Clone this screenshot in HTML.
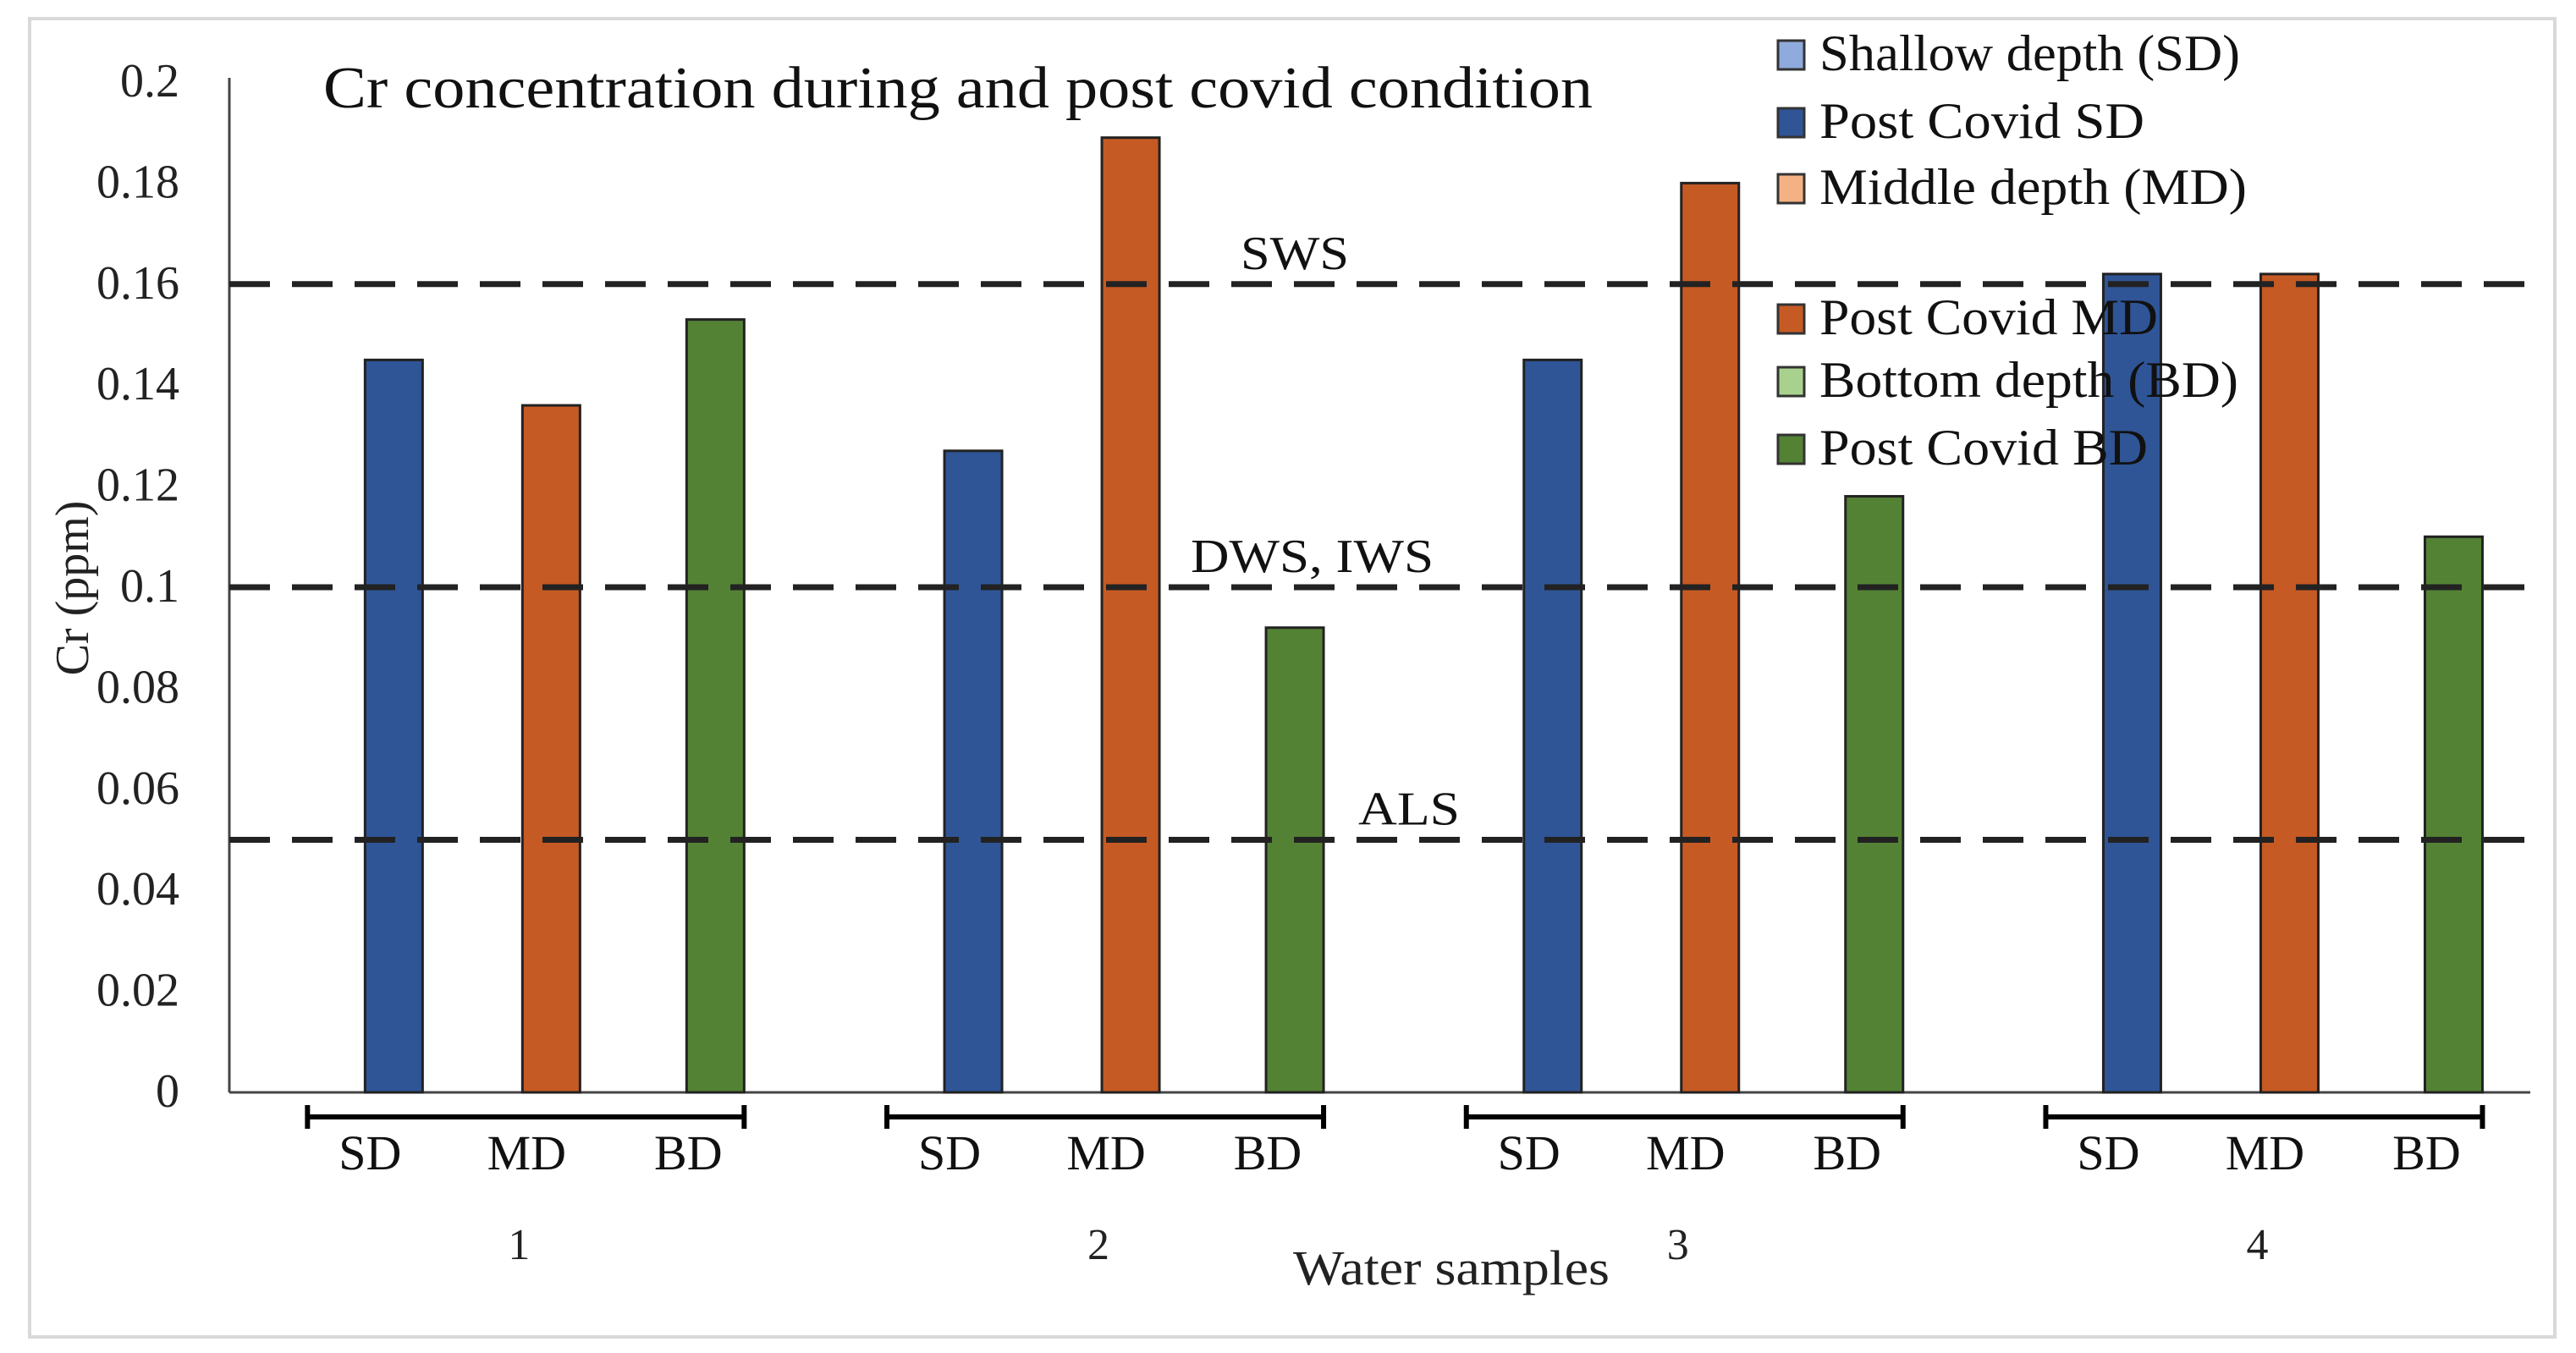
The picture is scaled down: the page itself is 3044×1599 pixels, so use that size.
<!DOCTYPE html>
<html><head><meta charset="utf-8"><style>
html,body{margin:0;padding:0;background:#fff;}
svg{display:block;font-family:"Liberation Serif",serif;}
</style></head><body>
<svg id="chart" width="3044" height="1599" viewBox="0 0 3044 1599">
<rect x="35" y="22" width="2984" height="1558" fill="#fff" stroke="#d9d9d9" stroke-width="4"/>
<g id="plot"></g>
</svg>
<script>
const groups = ["1","2","3","4"];
const subLabels = ["SD","MD","BD"];
const preSD = [0,0,0,0];
const postSD = [0.145,0.127,0.145,0.162];
const preMD = [0,0,0,0];
const postMD = [0.136,0.189,0.180,0.162];
const preBD = [0,0,0,0];
const postBD = [0.153,0.092,0.118,0.110];
const yTicks = [0,0.02,0.04,0.06,0.08,0.1,0.12,0.14,0.16,0.18,0.2];
const yTickLabels = ["0","0.02","0.04","0.06","0.08","0.1","0.12","0.14","0.16","0.18","0.2"];
const refValues = [0.16,0.1,0.05];
const refLabels = ["SWS","DWS, IWS","ALS"];
const legendLabels = ["Shallow depth (SD)","Post Covid SD","Middle depth (MD)","Post Covid MD","Bottom depth (BD)","Post Covid BD"];

const NS="http://www.w3.org/2000/svg";
const g=document.getElementById('plot');
function el(tag,attrs,parent){const e=document.createElementNS(NS,tag);for(const k in attrs)e.setAttribute(k,attrs[k]);(parent||g).appendChild(e);return e;}
const X0=271, CAT=684.7, Y0=1291, Y1=97, YMAX=0.2;
function y(v){return Y0-(v/YMAX)*(Y0-Y1);}
function gx(i){return X0+CAT*(i+0.5);}

let t=el('text',{x:382,y:127,'font-size':70,fill:'#111',textLength:1500,lengthAdjust:'spacingAndGlyphs'});
t.textContent="Cr concentration during and post covid condition";



yTicks.forEach((v,i)=>{
  const tl=el('text',{x:212,y:y(v)+17,'font-size':56,'text-anchor':'end',fill:'#222'});
  tl.textContent=yTickLabels[i];
  
  
});
const yt=el('text',{x:0,y:0,'font-size':56,'text-anchor':'middle',fill:'#222',transform:'translate(104,695) rotate(-90)'});
yt.textContent="Cr (ppm)";



const ya=el('line',{x1:X0,y1:Y1-5,x2:X0,y2:Y0,stroke:'#444','stroke-width':3});


const xa=el('line',{x1:X0,y1:Y0,x2:2990,y2:Y0,stroke:'#444','stroke-width':3});



const series=[
 {vals:preSD,off:-200,col:'#8faadc',name:'bar-shallow'},
 {vals:postSD,off:-148,col:'#2F5597',name:'bar-post-sd'},
 {vals:preMD,off:-10,col:'#f4b183',name:'bar-middle'},
 {vals:postMD,off:38,col:'#C55A24',name:'bar-post-md'},
 {vals:preBD,off:184,col:'#a9d18e',name:'bar-bottom'},
 {vals:postBD,off:232,col:'#548235',name:'bar-post-bd'}];
series.forEach(s=>{
  s.vals.forEach((v,i)=>{
    const cx=gx(i)+s.off, top=y(v);
    const r=el('rect',{x:cx-34,y:top,width:68,height:Math.max(0,Y0-top),fill:s.col,stroke:'#222','stroke-width':v>0?3:0});
    
    
  });
});

refValues.forEach((v,i)=>{
  const l=el('line',{x1:X0,y1:y(v),x2:2985,y2:y(v),stroke:'#222','stroke-width':7,'stroke-dasharray':'48 26'});
  
  
});
const refX=[1466,1407,1605];
const refW=[128,287,120];
refLabels.forEach((s,i)=>{
  const tl=el('text',{x:refX[i],y:y(refValues[i])-18,'font-size':56,fill:'#111',textLength:refW[i],lengthAdjust:'spacingAndGlyphs'});
  tl.textContent=s;
  
  
});

const subOff=[-176,9,200];
groups.forEach((gname,i)=>{
  const c=gx(i);
  const b=el('line',{x1:c-250,y1:1320,x2:c+266,y2:1320,stroke:'#000','stroke-width':6});
  
  
  [c-250,c+266].forEach(xx=>{
    const tk=el('line',{x1:xx,y1:1306,x2:xx,y2:1334,stroke:'#000','stroke-width':6});
    
    
  });
  subLabels.forEach((s,j)=>{
    const tl=el('text',{x:c+subOff[j],y:1382,'font-size':58,'text-anchor':'middle',fill:'#111'});
    tl.textContent=s;
    
    
  });
  const gl=el('text',{x:c,y:1488,'font-size':52,'text-anchor':'middle',fill:'#222'});
  gl.textContent=gname;
  
  
});
const xt=el('text',{x:1715,y:1518,'font-size':58,'text-anchor':'middle',fill:'#222',textLength:374,lengthAdjust:'spacingAndGlyphs'});
xt.textContent="Water samples";



const legY=[65,145,223,377,451,531];
const legW=[497,384,505,400,495,388];
const legCol=['#8faadc','#2F5597','#f4b183','#C55A24','#a9d18e','#548235'];
legendLabels.forEach((s,i)=>{
  const bx=el('rect',{x:2101,y:legY[i]-17,width:31,height:34,fill:legCol[i],stroke:'#333','stroke-width':3});
  
  
  const tl=el('text',{x:2150,y:legY[i]+18,'font-size':60,fill:'#111',textLength:legW[i],lengthAdjust:'spacingAndGlyphs'});
  tl.textContent=s;
  
  
});
</script>
</body></html>
